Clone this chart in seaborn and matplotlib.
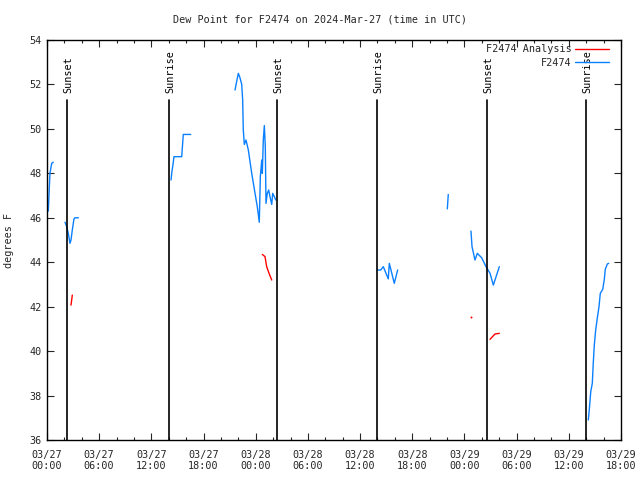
import matplotlib
matplotlib.use("Agg")
import matplotlib.pyplot as plt
import seaborn as sns
import pandas as pd
import numpy as np
from matplotlib.ticker import MultipleLocator
from matplotlib.lines import Line2D

# ---- data (hours since 2024-03-27 00:00 UTC) ----
obs_seg = [0]*5 + [1]*9 + [2]*7 + [3]*28 + [4]*8 + [5]*2 + [6]*9 + [7]*15
obs_t = [0.15, 0.26, 0.34, 0.54, 0.72,
         2.07, 2.27, 2.45, 2.64, 2.76, 2.91, 3.10, 3.22, 3.60,
         14.26, 14.37, 14.49, 14.60, 15.49, 15.67, 16.52,
         21.62, 21.79, 22.00, 22.19, 22.39, 22.50, 22.57, 22.69, 22.88, 23.15,
         23.54, 23.92, 24.18, 24.41, 24.53, 24.69, 24.76, 24.87, 24.99, 25.10,
         25.18, 25.33, 25.49, 25.64, 25.84, 25.95, 26.14, 26.30,
         37.98, 38.37, 38.67, 39.24, 39.36, 39.52, 39.93, 40.32,
         46.03, 46.14,
         48.75, 48.87, 49.21, 49.48, 49.98, 50.48, 50.94, 51.32, 52.01,
         62.24, 62.35, 62.52, 62.70, 62.81, 62.93, 63.09, 63.27, 63.47, 63.62,
         63.90, 64.08, 64.19, 64.43, 64.59]
obs_v = [46.3, 47.3, 48.0, 48.45, 48.5,
         45.8, 45.6, 45.3, 44.85, 45.0, 45.45, 45.95, 46.0, 46.0,
         47.7, 48.1, 48.4, 48.75, 48.75, 49.75, 49.75,
         51.75, 52.1, 52.5, 52.3, 52.0, 51.3, 49.95, 49.3, 49.5, 49.05,
         48.0, 47.1, 46.5, 45.8, 47.85, 48.6, 48.0, 49.5, 50.15, 49.2,
         46.65, 47.1, 47.25, 46.95, 46.6, 47.1, 46.95, 46.8,
         43.65, 43.65, 43.8, 43.25, 43.95, 43.7, 43.05, 43.65,
         46.4, 47.05,
         45.4, 44.7, 44.1, 44.4, 44.2, 43.8, 43.5, 42.97, 43.8,
         36.9, 37.35, 38.17, 38.55, 39.45, 40.27, 40.95, 41.47, 42.0, 42.6,
         42.78, 43.23, 43.68, 43.92, 43.95]

ana_seg = [0]*2 + [1]*5 + [2]*1 + [3]*3
ana_t = [2.76, 2.91,
         24.76, 25.07, 25.26, 25.53, 25.84,
         48.75,
         50.94, 51.51, 52.01]
ana_v = [42.07, 42.52,
         44.35, 44.25, 43.8, 43.5, 43.2,
         41.52,
         40.53, 40.77, 40.8]

sun_t = [2.33, 14.06, 26.48, 37.98, 50.56, 62.01]
sun_labels = ["Sunset", "Sunrise", "Sunset", "Sunrise", "Sunset", "Sunrise"]

xtick_labels = ["03/27\n00:00", "03/27\n06:00", "03/27\n12:00", "03/27\n18:00",
                "03/28\n00:00", "03/28\n06:00", "03/28\n12:00", "03/28\n18:00",
                "03/29\n00:00", "03/29\n06:00", "03/29\n12:00", "03/29\n18:00"]

series_names = ["F2474 Analysis", "F2474"]
title = "Dew Point for F2474 on 2024-Mar-27 (time in UTC)"

# ---- plot ----
sns.set_theme(style="white")
plt.rcParams['font.family'] = ['DejaVu Sans Mono', 'DejaVu Sans']
FS = 7.3

BLUE = "#0a80ff"
RED = "#ff0000"

fig = plt.figure(figsize=(6.4, 4.8), dpi=100)
ax = fig.add_axes([47/640, 40/480, 574/640, 400/480])

obs = pd.DataFrame({"t": obs_t, "v": obs_v, "seg": obs_seg})
ana = pd.DataFrame({"t": ana_t, "v": ana_v, "seg": ana_seg})

sns.lineplot(data=ana, x="t", y="v", units="seg", estimator=None, color=RED,
             lw=1.0, ax=ax, legend=False)
single = ana.groupby("seg").filter(lambda g: len(g) == 1)
sns.scatterplot(data=single, x="t", y="v", color=RED, s=2, linewidth=0, ax=ax,
                legend=False)
sns.lineplot(data=obs, x="t", y="v", units="seg", estimator=None, color=BLUE,
             lw=1.0, ax=ax, legend=False)

for t, lab in zip(sun_t, sun_labels):
    ax.plot([t, t], [36, 51.3], color="black", lw=1.2)
    ax.text(t + 0.15, 51.6, lab, rotation=90, ha="center", va="bottom",
            fontsize=FS, color="black")

ax.set_xlim(0, 66)
ax.set_ylim(36, 54)
ax.set_xticks(np.arange(0, 67, 6))
ax.set_xticklabels(xtick_labels)
ax.xaxis.set_minor_locator(MultipleLocator(2))
ax.set_yticks(np.arange(36, 55, 2))
ax.tick_params(axis="both", which="major", direction="in", length=5, width=0.8,
               top=True, right=True, bottom=True, left=True, labelsize=FS, pad=4)
ax.tick_params(axis="x", which="major", pad=7)
ax.tick_params(axis="both", which="minor", direction="in", length=2.5, width=0.8,
               top=True, right=True, bottom=True, left=True)
for s in ax.spines.values():
    s.set_color("black")
    s.set_linewidth(1.0)

ax.set_xlabel("")
ax.set_ylabel("degrees F", fontsize=FS)
ax.yaxis.set_label_coords(-0.058, 0.5)
fig.text(0.5, 1 - 19/480, title, ha="center", va="center", fontsize=FS)

handles = [Line2D([], [], color=RED, lw=1.0), Line2D([], [], color=BLUE, lw=1.0)]
ax.legend(handles, series_names, loc="upper right", frameon=False,
          bbox_to_anchor=(1 - 8/574, 1.0),
          markerfirst=False, fontsize=FS, handlelength=3.3, borderaxespad=0.2,
          labelspacing=0.35, handletextpad=0.4, borderpad=0.2)

fig.savefig("out.png", dpi=100)
